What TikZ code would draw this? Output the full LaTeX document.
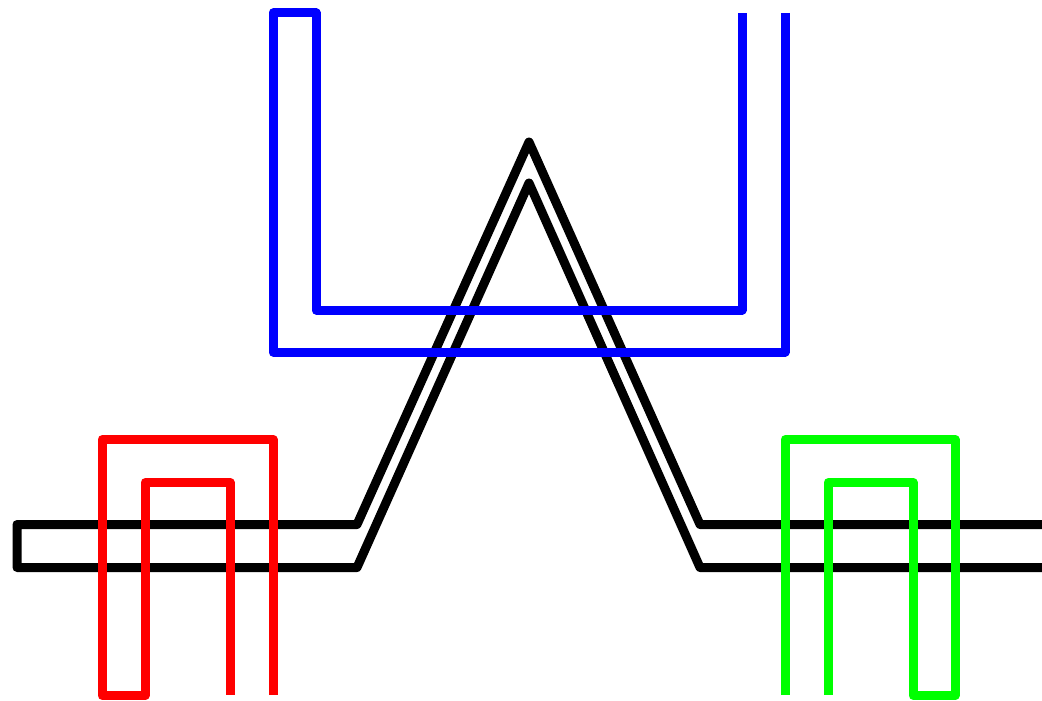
\documentclass[tikz,border=0pt]{standalone}
\begin{document}
\begin{tikzpicture}[x=1pt,y=-1pt,
  wire/.style={line width=9pt,line join=round,line cap=butt}]
\useasboundingbox (0,0) rectangle (1042,701);
% black
\coordinate (k1) at (1045,524.5);
\coordinate (k2) at (700,524.5);
\coordinate (k3) at (529,142);
\coordinate (k4) at (357,524.5);
\coordinate (k5) at (17,524.5);
\coordinate (k6) at (17,567.5);
\coordinate (k7) at (357,567.5);
\coordinate (k8) at (529,183);
\coordinate (k9) at (700,567.5);
\coordinate (k10) at (1045,567.5);
\draw[wire,black] (k1) -- (k2) -- (k3) -- (k4) -- (k5) -- (k6) -- (k7) -- (k8) -- (k9) -- (k10);
% blue
\coordinate (b1) at (785,13);
\coordinate (b2) at (785,352);
\coordinate (b3) at (273,352);
\coordinate (b4) at (273,13);
\coordinate (b5) at (316,13);
\coordinate (b6) at (316,310);
\coordinate (b7) at (742,310);
\coordinate (b8) at (742,13);
\draw[wire,blue] (b1) -- (b2) -- (b3) -- (b4) -- (b5) -- (b6) -- (b7) -- (b8);
% red
\coordinate (r1) at (273,695);
\coordinate (r2) at (273,439.5);
\coordinate (r3) at (102,439.5);
\coordinate (r4) at (102,695.5);
\coordinate (r5) at (145,695.5);
\coordinate (r6) at (145,482.5);
\coordinate (r7) at (230,482.5);
\coordinate (r8) at (230,695);
\draw[wire,red] (r1) -- (r2) -- (r3) -- (r4) -- (r5) -- (r6) -- (r7) -- (r8);
% green
\coordinate (g1) at (785,695);
\coordinate (g2) at (785,439.5);
\coordinate (g3) at (955,439.5);
\coordinate (g4) at (955,695.5);
\coordinate (g5) at (913,695.5);
\coordinate (g6) at (913,482.5);
\coordinate (g7) at (828,482.5);
\coordinate (g8) at (828,695);
\draw[wire,green] (g1) -- (g2) -- (g3) -- (g4) -- (g5) -- (g6) -- (g7) -- (g8);
\end{tikzpicture}
\end{document}
